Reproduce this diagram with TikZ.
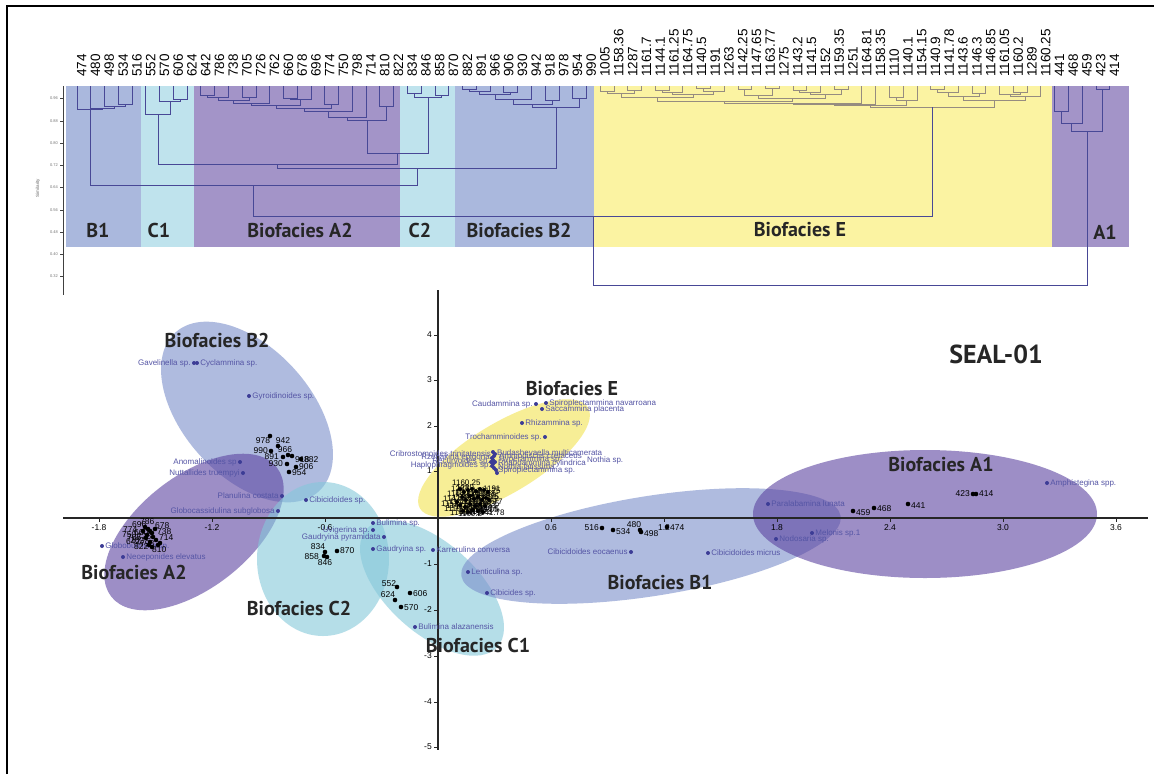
\documentclass[tikz,border=0pt]{standalone}
\usepackage{fontspec}
\setmainfont{Liberation Sans}
\newfontfamily\bfam{PT Sans}
\definecolor{bandB}{RGB}{170,184,221}
\definecolor{bandC}{RGB}{191,227,237}
\definecolor{bandA}{RGB}{163,148,200}
\definecolor{bandE}{RGB}{251,243,162}
\definecolor{dline}{RGB}{72,72,150}
\definecolor{eline}{RGB}{150,140,128}
\definecolor{elB}{RGB}{123,143,203}
\definecolor{elA}{RGB}{93,68,160}
\definecolor{elC}{RGB}{133,200,218}
\definecolor{elE}{RGB}{243,227,80}
\definecolor{spc}{RGB}{60,60,150}
\definecolor{spt}{RGB}{85,85,165}
\newcommand\dbr[5]{\draw[dl] (#1,#2) |- (#3,#5) -- (#3,#4);}
\newcommand\ebr[5]{\draw[elin] (#1,#2) |- (#3,#5) -- (#3,#4);}
\newcommand\spR[3]{\node[spd] (#1) at (#2) {}; \node[sp,anchor=west,xshift=1pt] (#1t) at (#1.east) {#3};}
\newcommand\spL[3]{\node[spd] (#1) at (#2) {}; \node[sp,xshift=-1pt,anchor=east] (#1t) at (#1.west) {#3};}
\newcommand\smp[5]{\node[smd] (#1) at (#2) {}; \node[sm,anchor=#5] (#1t) at (#4) {#3};}
\begin{document}
\begin{tikzpicture}[x=1pt,y=-1pt,
  leaf/.style={rotate=90,anchor=west,inner sep=0pt,font=\fontsize{13.5}{13.5}\selectfont},
  dl/.style={draw=dline,line width=0.9pt},
  elin/.style={draw=eline,line width=0.9pt},
  bf/.style={inner sep=0pt,text=black!85,font=\bfam\bfseries\fontsize{20}{20}\selectfont},
  sp/.style={inner sep=0pt,text=spt,font=\fontsize{8}{8}\selectfont},
  sm/.style={inner sep=0pt,font=\fontsize{8.5}{8.5}\selectfont},
  tk/.style={inner sep=0pt,font=\fontsize{8.5}{8.5}\selectfont},
  spd/.style={circle,fill=spc,inner sep=0pt,minimum size=4pt},
  smd/.style={circle,fill=black,inner sep=0pt,minimum size=4.6pt},
  ell/.style={fill opacity=0.6}]
\useasboundingbox (0,0) rectangle (1154,774);
\fill[white] (0,0) rectangle (1154,774);
% frame
\draw[line width=1.5pt] (7,774) -- (7,6) -- (1154,6);
% ---------------- dendrogram bands
\fill[bandB] (66,86) rectangle (141,247);
\fill[bandC] (141,86) rectangle (194,247);
\fill[bandA] (194,86) rectangle (400,247);
\fill[bandC] (400,86) rectangle (455,247);
\fill[bandB] (455,86) rectangle (594,247);
\fill[bandE] (594,86) rectangle (1052,247);
\fill[bandA] (1052,86) rectangle (1129,247);
\node[bf] (bB1) at (98,230) {B1};
\node[bf] (bC1) at (159,230) {C1};
\node[bf] (bA2) at (300,230) {Biofacies A2};
\node[bf] (bC2) at (420,230) {C2};
\node[bf] (bB2) at (519,230) {Biofacies B2};
\node[bf] (bE) at (800,230) {Biofacies E};
\node[bf] (bA1) at (1105,232) {A1};
% leaf labels
\foreach \lab [count=\i from 0] in {474,480,498,534,516,552,570,606,624,642,786,738,705,726,762,660,678,696,774,750,798,714,810,822,834,846,858,870,882,891,966,906,930,942,918,978,954,990,1005,1158.36,1287,1161.7,1144.1,1161.25,1164.75,1140.5,1191,1263,1142.25,1147.65,1163.77,1275,1143.2,1141.5,1152,1159.35,1251,1164.81,1158.35,1110,1140.1,1154.15,1140.9,1141.78,1143.6,1146.3,1146.85,1161.05,1160.2,1289,1160.25,441,468,459,423,414}
  \node[leaf] (lf\i) at ({77+13.77*\i+4.8},77) {\lab};
% similarity axis
\draw[black!75,line width=0.8pt] (63,86) -- (63,295);
\foreach \v/\yy in {0.96/98,0.88/121,0.80/143,0.72/165,0.64/187,0.56/210,0.48/232,0.40/254,0.32/276}{
  \draw[black!75,line width=0.6pt] (60,\yy) -- (63,\yy);
  \node[inner sep=0pt,anchor=east,text=black!55,font=\fontsize{4}{4}\selectfont] at (58,\yy) {\v};}
\node[rotate=90,inner sep=0pt,text=black!60,font=\fontsize{4.5}{4.5}\selectfont] (simlab) at (38,188) {Similarity};
% B1
\dbr{118.3}{86}{132.1}{86}{104}
\dbr{104.5}{86}{125.2}{104}{106}
\dbr{90.8}{86}{114.9}{106}{108}
\dbr{77}{86}{102.8}{108}{109}
% C1
\dbr{173.4}{86}{187.2}{86}{99}
\dbr{159.6}{86}{180.3}{99}{101}
\dbr{145.9}{86}{170}{101}{114}
% A2
\dbr{200.9}{86}{214.7}{86}{95}
\dbr{207.8}{95}{228.5}{86}{97}
\dbr{242.2}{86}{256}{86}{97}
\dbr{218.2}{97}{249.1}{97}{100}
\dbr{233.6}{100}{269.8}{86}{103}
\dbr{283.6}{86}{297.3}{86}{98}
\dbr{290.5}{98}{311.1}{86}{99}
\dbr{251.7}{103}{300.8}{99}{105}
\dbr{324.9}{86}{338.6}{86}{104}
\dbr{276.2}{105}{331.8}{104}{108}
\dbr{304}{108}{352.4}{86}{111}
\dbr{328.2}{111}{366.2}{86}{117}
\dbr{379.9}{86}{393.7}{86}{106}
\dbr{347.2}{117}{386.8}{106}{120}
% C2
\dbr{407.5}{86}{421.3}{86}{93}
\dbr{435}{86}{448.8}{86}{95}
\dbr{414.4}{93}{441.9}{95}{97}
% B2
\dbr{462.6}{86}{476.3}{86}{89}
\dbr{469.5}{89}{490.1}{86}{91}
\dbr{503.9}{86}{517.6}{86}{92}
\dbr{479.8}{91}{510.8}{92}{94}
\dbr{495.3}{94}{531.4}{86}{99}
\dbr{545.2}{86}{559}{86}{100}
\dbr{513.3}{99}{552.1}{100}{104}
\dbr{572.7}{86}{586.5}{86}{98}
\dbr{532.7}{104}{579.6}{98}{107}
% joins
\dbr{367}{120}{428.1}{97}{153}
\dbr{158}{114}{397.6}{153}{164}
\dbr{277.8}{164}{556.2}{107}{168}
\dbr{90}{109}{417}{168}{185}
% E
\ebr{600.3}{86}{614}{86}{91}
\ebr{627.8}{86}{641.6}{86}{90}
\ebr{607.2}{91}{634.7}{90}{93}
\ebr{655.3}{86}{669.1}{86}{90}
\ebr{662.2}{90}{682.9}{86}{92}
\ebr{696.7}{86}{710.4}{86}{88}
\ebr{703.6}{88}{724.2}{86}{91}
\ebr{672.6}{92}{713.9}{91}{94}
\ebr{621}{93}{693.3}{94}{97}
\ebr{738}{86}{751.7}{86}{89}
\ebr{765.5}{86}{779.3}{86}{88}
\ebr{744.9}{89}{772.4}{88}{95}
\ebr{793}{86}{806.8}{86}{90}
\ebr{799.9}{90}{820.6}{86}{92}
\ebr{834.4}{86}{848.1}{86}{89}
\ebr{810.3}{92}{841.3}{89}{94}
\ebr{758.6}{95}{825.8}{94}{98}
\ebr{657.1}{97}{792.2}{98}{101}
\ebr{724.7}{101}{861.9}{86}{103}
\ebr{793.3}{103}{875.7}{86}{104}
\ebr{889.4}{86}{903.2}{86}{97}
\ebr{896.3}{97}{917}{86}{100}
\ebr{834.5}{104}{906.7}{100}{105}
\ebr{930.7}{86}{944.5}{86}{89}
\ebr{937.6}{89}{958.3}{86}{92}
\ebr{972.1}{86}{985.8}{86}{93}
\ebr{948}{92}{979}{93}{96}
\ebr{1013.4}{86}{1027.1}{86}{92}
\ebr{999.6}{86}{1020.3}{92}{94}
\ebr{1010}{94}{1040.9}{86}{96}
\ebr{963.5}{96}{1025.5}{96}{100}
\ebr{870.6}{105}{994.5}{100}{107}
% A1
\dbr{1054.7}{86}{1068.4}{86}{111}
\dbr{1061.6}{111}{1082.2}{86}{123}
\dbr{1096}{86}{1109.8}{86}{89}
\dbr{1071.9}{123}{1102.9}{89}{131}
% top joins
\dbr{253.5}{185}{932.5}{107}{216}
\dbr{593}{216}{1087.4}{131}{285}
% ---------------- ordination plot
\fill[elB,ell,rotate around={-48:(247,412)}] (247,412) ellipse [x radius=107pt,y radius=64pt];
\fill[elA,ell,rotate around={38:(194,532)}] (194,532) ellipse [x radius=105pt,y radius=56pt];
\fill[elC,ell] (323,559) ellipse [x radius=66pt,y radius=77pt];
\fill[elC,ell,rotate around={-42:(432,588)}] (432,588) ellipse [x radius=88pt,y radius=45pt];
\fill[elE,ell,rotate around={31:(504,458)}] (504,458) ellipse [x radius=98pt,y radius=35pt];
\fill[elB,ell,rotate around={9:(651,546)}] (651,546) ellipse [x radius=192pt,y radius=50pt];
\fill[elA,ell] (925,514) ellipse [x radius=172pt,y radius=64pt];
% axes
\draw[black!85,line width=1.3pt] (63,518) -- (1148,518);
\draw[black!85,line width=1.3pt] (438,290) -- (438,750);
\foreach \xx/\lab in {99/-1.8,212/-1.2,325/-0.6,551/0.6,664/1.2,777/1.8,890/2.4,1003/3.0,1116/3.6}{
  \draw[black!85,line width=0.8pt] (\xx,518) -- (\xx,522);
  \node[tk] at (\xx,528) {\lab};}
\foreach \yy/\lab in {335/4,380/3,426/2,471/1,564/-1,610/-2,656/-3,702/-4,747/-5}{
  \draw[black!85,line width=0.8pt] (434,\yy) -- (438,\yy);
  \node[tk,anchor=east] at (432,\yy) {\lab};}
% species
\spL{gav}{194,363}{Gavelinella sp.}
\spR{cyc}{197,363}{Cyclammina sp.}
\spR{gyr}{249,396}{Gyroidinoides sp.}
\spL{ano}{240,462}{Anomalinoides sp}
\spL{nut}{243,473}{Nuttallides truempyi}
\spL{pla}{282,496}{Planulina costata}
\spR{cib}{306,500}{Cibicidoides sp.}
\spL{glc}{278,511}{Globocassidulina subglobosa}
\spR{glb}{102,546}{Globobulimina sp.}
\spR{neo}{123,557}{Neoeponides elevatus}
\spR{bul}{373,523}{Bulimina sp.}
\spL{uvi}{373,530}{Uvigerina sp.}
\spL{gpy}{384,537}{Gaudryina pyramidata}
\spR{gau}{373,549}{Gaudryina sp.}
\spR{kar}{433,550}{Karrerulina conversa}
\spR{len}{468,572}{Lenticulina sp.}
\spR{cbs}{487,593}{Cibicides sp.}
\spR{bal}{415,627}{Bulimina alazanensis}
\spL{ceo}{631,552}{Cibicidoides eocaenus}
\spR{cmi}{708,553}{Cibicidoides micrus}
\spR{par}{768,504}{Paralabamina lunata}
\spR{nod}{776,539}{Nodosaria sp.}
\spR{mel}{812,533}{Melonis sp.1}
\spR{amp}{1047,483}{Amphistegina spp.}
\spL{cau}{536,404}{Caudammina sp.}
\spR{spn}{546,403}{Spiroplectammina navarroana}
\spR{sac}{542,409}{Saccammina placenta}
\spR{rhi}{522,423}{Rhizammina sp.}
\spL{tro}{545,437}{Trochamminoides sp.}
\foreach \dx/\dy [count=\k] in {493/452,495/454,494/456,492/458,493/460,495/462,493/464,492/466,494/468,496/470,497/473,491/462}
  \node[spd] (ec\k) at (\dx,\dy) {};
\node[sp,anchor=east] (t1) at (491,454) {Cribrostomoides trinitatensis};
\node[sp,anchor=east] (t2) at (490,457.5) {Rzehakina epigona};
\node[sp,anchor=east] (t3) at (490,461) {Recurvoides sp.};
\node[sp,anchor=east] (t4) at (491,465) {Haplophragmoides sp.};
\node[sp,anchor=west] (t5) at (497,453) {Budashevaella multicamerata};
\node[sp,anchor=west] (t6) at (499,456) {Ammodiscus cretaceus};
\node[sp,anchor=west] (t7) at (499,459.5) {Hyperammina sp.};
\node[sp,anchor=west] (t8) at (498,463) {Rhabdammina cylindrica};
\node[sp,anchor=west] (t9) at (498,466.5) {Nothia latissima};
\node[sp,anchor=west] (t10) at (498,470.5) {Spiroplectammina sp.};
\node[sp,anchor=west] (t11) at (587,460) {Nothia sp.};
% samples B2
\smp{s978}{270,436}{978}{263,441}{center}
\smp{s942}{278,446}{942}{283,441}{center}
\smp{s990}{271,451}{990}{268,451}{east}
\smp{s966}{288,455}{966}{285,450}{center}
\node[smd] (s966b) at (292,456) {};
\smp{s891}{283,457}{891}{279,457}{east}
\node[sm,anchor=west] (s918t) at (295,460) {918};
\smp{s882}{301,459}{882}{304,460}{west}
\smp{s930}{287,464}{930}{283,464}{east}
\smp{s906}{296,467}{906}{299,467}{west}
\smp{s954}{289,472}{954}{292,473}{west}
% samples A2
\foreach \dx/\dy [count=\k] in {145/527,148/529,150/531,152/533,147/535,153/537,156/540,150/542,158/545,143/531,155/529,152/547,160/543,146/538,149/545}
  \node[smd] (a2d\k) at (\dx,\dy) {};
\foreach \lab/\lx/\ly [count=\k] in {696/132/525,786/140/522,678/155/526,774/123/530,738/157/532,750/122/535,660/134/533,705/127/538,726/137/537,762/130/541,642/126/542,714/159/538,798/140/544,822/134/547,810/152/550}
  \node[sm,anchor=west] (a2t\k) at (\lx,\ly) {\lab};
% samples C2
\smp{s834}{325,552}{834}{318,547}{center}
\smp{s858}{324,556}{858}{319,557}{east}
\smp{s846}{327,557}{846}{325,563}{center}
\smp{s870}{337,551}{870}{340,551}{west}
% samples C1
\smp{s552}{397,587}{552}{389,584}{center}
\smp{s624}{395,600}{624}{388,595}{center}
\smp{s606}{410,593}{606}{413,594}{west}
\smp{s570}{401,607}{570}{404,608}{west}
% samples B1
\smp{s516}{602,528}{516}{599,528}{east}
\smp{s534}{613,530}{534}{616,532}{west}
\smp{s480}{640,530}{480}{634,525}{center}
\smp{s498}{641,532}{498}{644,534}{west}
\smp{s474}{667,527}{474}{670,528}{west}
% samples A1
\smp{s459}{853,511}{459}{856,513}{west}
\smp{s468}{874,508}{468}{877,509}{west}
\smp{s441}{908,504}{441}{911,506}{west}
\smp{s423}{973,494}{423}{970,494}{east}
\smp{s414}{976,494}{414}{979,494}{west}
% samples E
\foreach \dx/\dy [count=\k] in {460/489,464/492,468/490,472/489,476/491,480/489,484/490,488/492,462/497,466/500,470/496,474/499,478/497,482/500,486/498,460/505,465/507,470/504,475/506,480/504,485/506,463/511,468/512,473/510,478/511,483/512,457/502,489/500}
  \node[smd,minimum size=4pt] (ed\k) at (\dx,\dy) {};
\foreach \lab/\lx/\ly [count=\k] in {1160.25/452/483,1287/451/489,1289/456/488,1191/483/489,1164.81/447/494,1263/477/494,1275/481/497,1142.25/443/499,1147.65/468/500,1152/441/504,1159.35/471/504,1110/444/509,1140.1/465/508,1143.6/450/513,1146.3/468/512,1005/455/493,1158.36/452/498,1161.7/460/502,1144.1/446/506,1161.25/472/491,1164.75/458/510,1140.5/475/509,1142.25/462/496,1163.77/474/502,1143.2/449/502,1141.5/466/494,1251/479/506,1158.35/455/507,1154.15/470/497,1140.9/460/512,1141.78/476/513,1146.85/463/505,1161.05/470/510,1160.2/458/514}
  \node[sm,anchor=west,font=\fontsize{8}{8}\selectfont] (et\k) at (\lx,\ly) {\lab};
% labels
\node[bf] (pB2) at (217,340) {Biofacies B2};
\node[bf] (pE) at (572,389) {Biofacies E};
\node[bf] (pA2) at (134,572) {Biofacies A2};
\node[bf] (pC2) at (299,608) {Biofacies C2};
\node[bf] (pC1) at (478,645) {Biofacies C1};
\node[bf] (pB1) at (660,583) {Biofacies B1};
\node[bf] (pA1) at (941,465) {Biofacies A1};
\node[bf,font=\bfam\bfseries\fontsize{26}{26}\selectfont] (seal) at (996,354) {SEAL-01};
\end{tikzpicture}
\end{document}
